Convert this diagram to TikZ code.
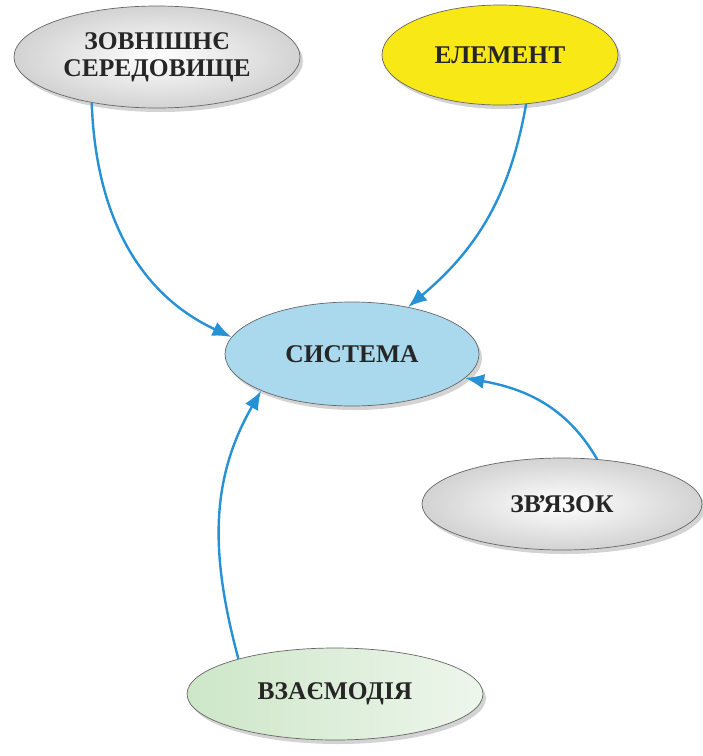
\documentclass[tikz,border=0pt]{standalone}
\usepackage{fontspec}
\setmainfont{Liberation Serif}
\usetikzlibrary{shapes.geometric,shadows,arrows.meta}
\definecolor{linkblue}{RGB}{38,145,212}
\definecolor{ovalyellow}{RGB}{248,232,22}
\definecolor{ovalblue}{RGB}{170,217,238}
\definecolor{ovalgreen}{RGB}{205,230,200}

\begin{document}
\begin{tikzpicture}[x=1pt,y=1pt]
		\tikzstyle{every node}+=[inner sep=0pt]
		\tikzstyle{oval}=[ellipse,draw=black!60,line width=0.7pt,drop shadow={shadow xshift=3pt,shadow yshift=-4pt,opacity=0.35},font=\bfseries\fontsize{25.5}{27}\selectfont,text=black!85,align=center]
		\tikzstyle{link}=[draw=linkblue,line width=2.4pt,-{Latex[length=19pt,width=15pt]}]
		\useasboundingbox (0,0) rectangle (703,-756);
		\node [oval,minimum width=286,minimum height=102,inner color=white,outer color=gray!35] (zs) at (157,-57) {ЗОВНІШНЄ\\СЕРЕДОВИЩЕ};
		\node [oval,minimum width=236,minimum height=100,fill=ovalyellow] (el) at (500,-55) {ЕЛЕМЕНТ};
		\node [oval,minimum width=254,minimum height=104,fill=ovalblue] (sys) at (352,-354) {СИСТЕМА};
		\node [oval,minimum width=280,minimum height=92,inner color=white,outer color=gray!35] (zv) at (562,-504) {ЗВ\kern-0.12em’\kern-0.12emЯЗОК};
		\node [oval,minimum width=296,minimum height=92,left color=ovalgreen,right color=ovalgreen!35] (vz) at (335,-694) {ВЗАЄМОДІЯ};
		\draw [link] (zs.-145) to [out=-88,in=155] (sys.172);
		\draw [link] (el.-62) to [out=-100,in=40] (sys.40);
		\draw [link] (zv.52) to [out=120,in=-10] (sys.-12);
		\draw [link] (vz.160) to [out=105,in=-120] (sys.202);
	\end{tikzpicture}
\end{document}
